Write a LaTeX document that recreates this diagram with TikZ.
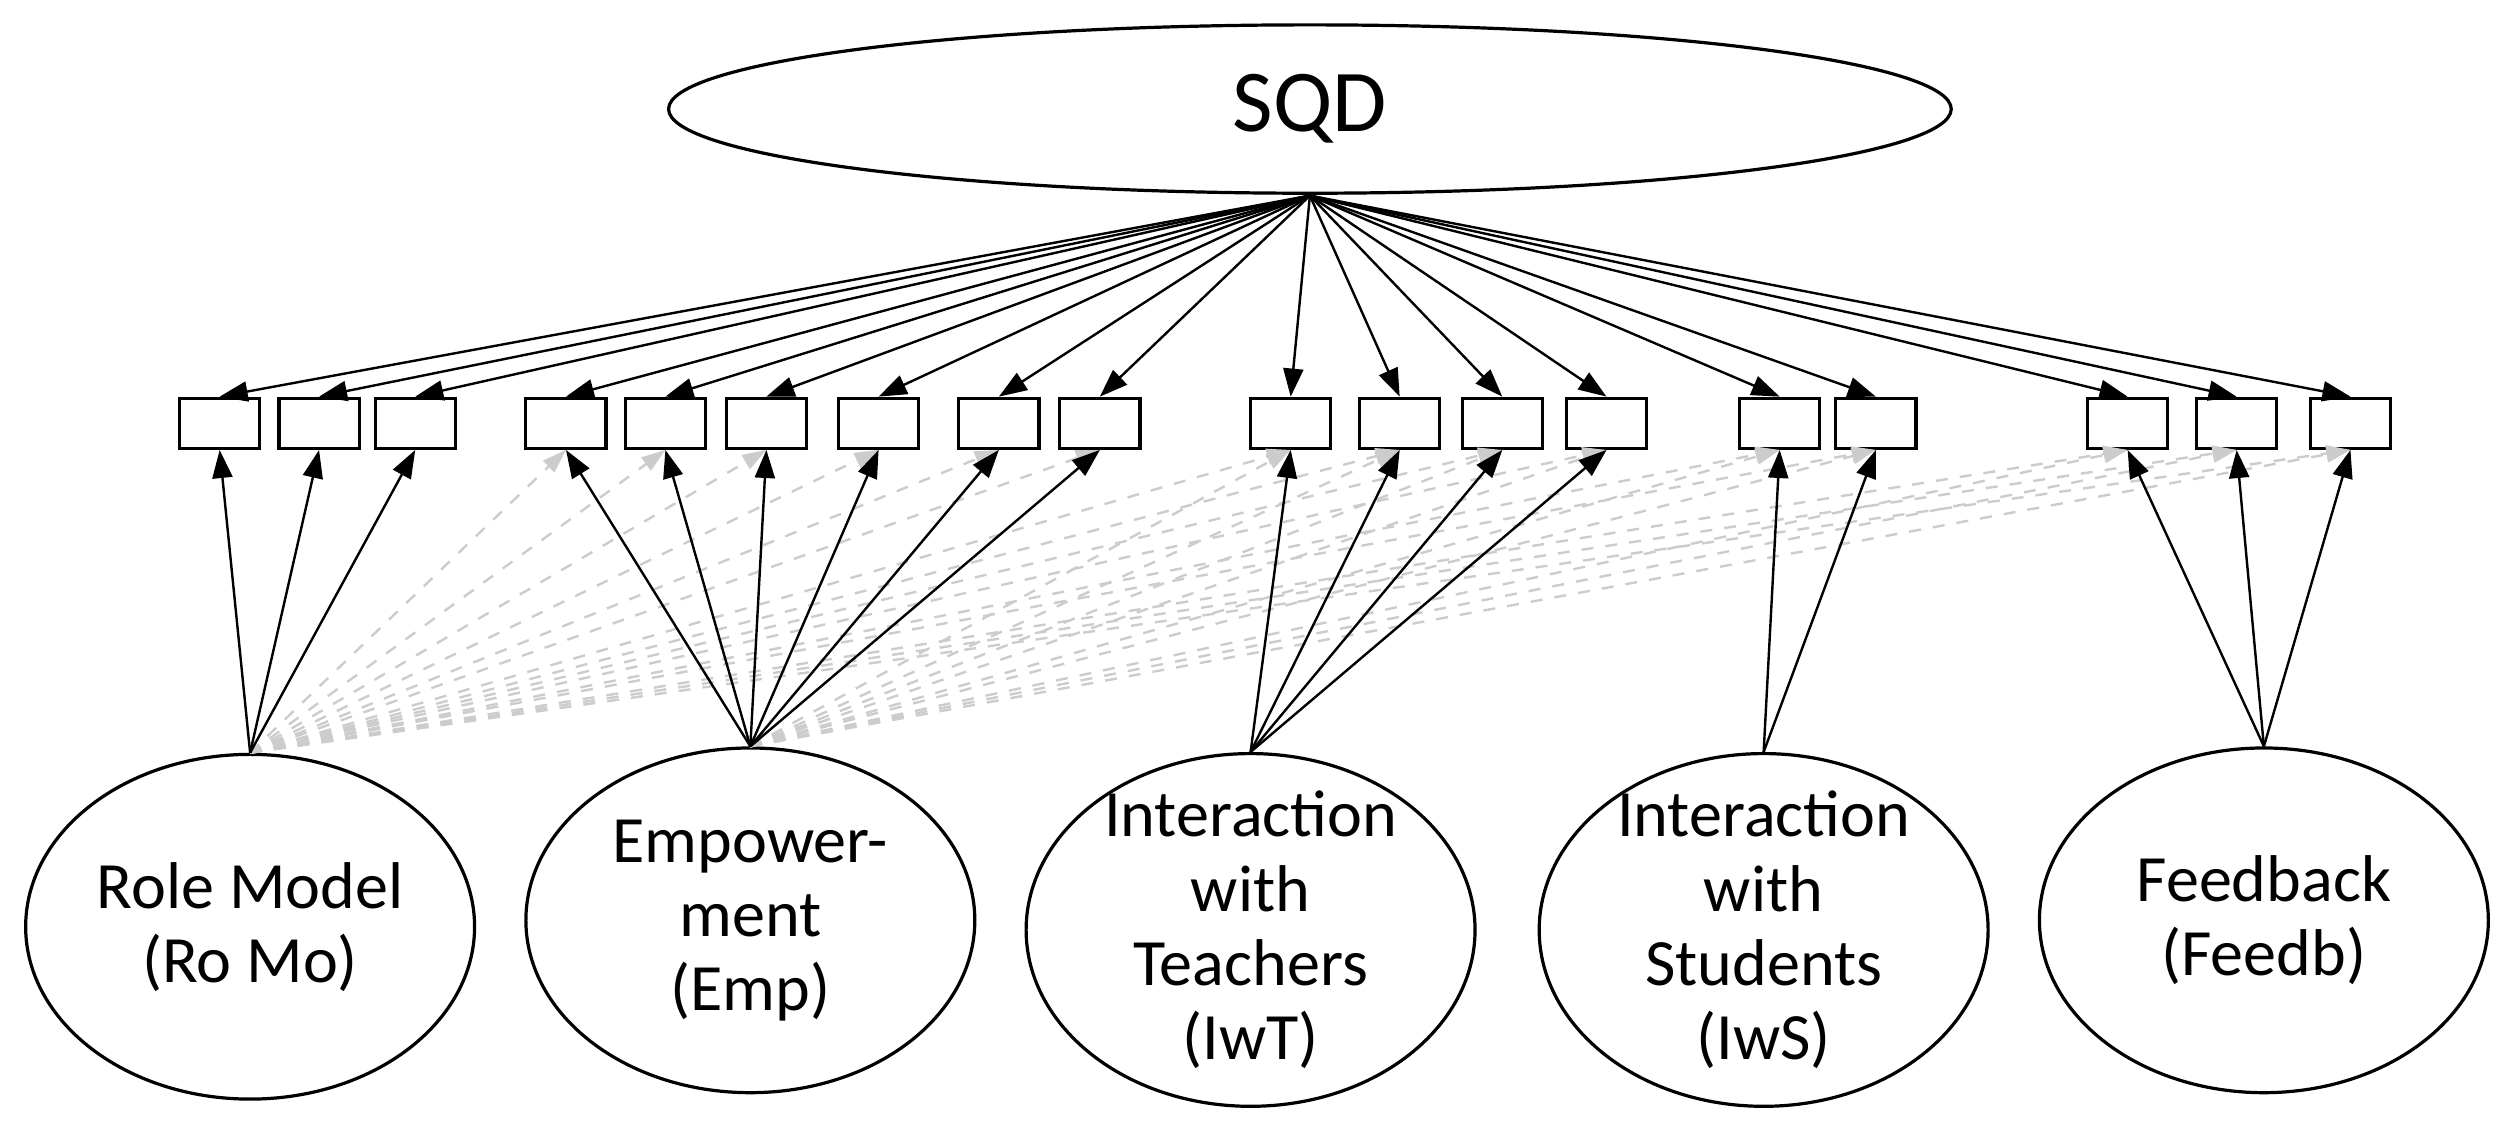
\documentclass[tikz,border=0pt]{standalone}
\usepackage{fontspec}
\setmainfont{Carlito}
\usetikzlibrary{shapes.geometric,arrows.meta}
\begin{document}
\begin{tikzpicture}[x=0.4pt,y=-0.4pt,
 lat/.style={draw,ellipse,line width=0.8pt,inner sep=-6pt,align=center,font=\fontsize{16.5}{18.5}\selectfont},
 ind/.style={draw,line width=0.8pt,minimum width=20pt,minimum height=12.5pt,inner sep=0pt},
 load/.style={-{Triangle[length=7pt,width=5pt]},line width=0.6pt},
 cross/.style={-{Triangle[length=6pt,width=4pt]},dashed,gray!40,line width=0.6pt}]
\useasboundingbox (0,0) rectangle (1568,703);
\node[lat,inner sep=0pt,minimum width=320pt,minimum height=42pt,font=\fontsize{22}{24}\selectfont] (sqd) at (817,68) {SQD};
\coordinate (s) at (817,122);
\foreach \i/\x in {1/137,2/199,3/259,4/353,5/415,6/478,7/548,8/623,9/686,10/805,11/873,12/937,13/1002,14/1110,15/1170,16/1327,17/1395,18/1466}
  \node[ind] (b\i) at (\x,264) {};
\node[lat,minimum width=112pt,minimum height=86pt] (ro) at (156,578) {Role Model\\(Ro Mo)};
\node[lat,minimum width=112pt,minimum height=86pt] (emp) at (468,574) {Empower-\\ment\\(Emp)};
\node[lat,minimum width=112pt,minimum height=88pt] (iwt) at (780,580) {Interaction\\with\\Teachers\\(IwT)};
\node[lat,minimum width=112pt,minimum height=88pt] (iws) at (1100,580) {Interaction\\with\\Students\\(IwS)};
\node[lat,minimum width=112pt,minimum height=86pt] (fb) at (1412,574) {Feedback\\(Feedb)};
% cross loadings
\foreach \i in {4,...,18} \draw[cross] (ro.north) -- (b\i.south);
\foreach \i in {10,...,18} \draw[cross] (emp.north) -- (b\i.south);
% loadings from SQD
\foreach \i in {1,...,18} \draw[load] (s) -- (b\i.north);
\foreach \i in {1,2,3} \draw[load] (ro.north) -- (b\i.south);
\foreach \i in {4,...,9} \draw[load] (emp.north) -- (b\i.south);
\foreach \i in {10,...,13} \draw[load] (iwt.north) -- (b\i.south);
\foreach \i in {14,15} \draw[load] (iws.north) -- (b\i.south);
\foreach \i in {16,17,18} \draw[load] (fb.north) -- (b\i.south);
\end{tikzpicture}
\end{document}
